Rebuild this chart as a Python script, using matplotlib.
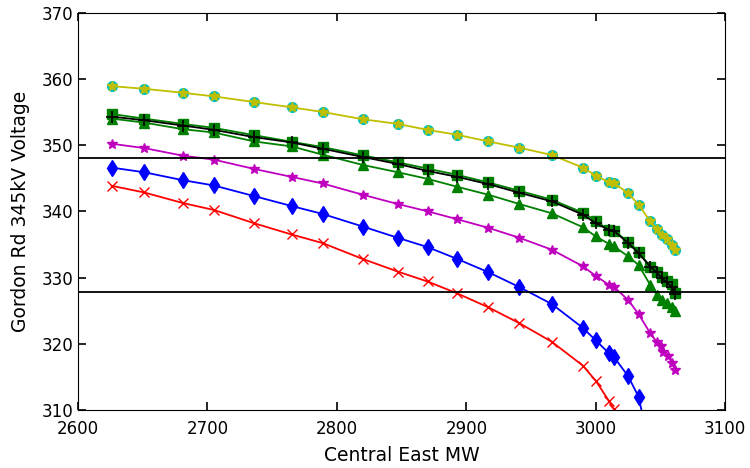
import matplotlib
matplotlib.use("Agg")
import matplotlib.pyplot as plt
import numpy as np

# Central East MW sample points (shared by most cases)
mw = [2626, 2651, 2681, 2705, 2736, 2765, 2789, 2820, 2847, 2870, 2893, 2917, 2941,
      2966, 2990, 3000, 3010, 3014, 3025, 3033, 3042, 3047, 3051, 3055, 3059, 3061]

v_yellow = [358.9, 358.5, 357.9, 357.35, 356.5, 355.7, 355.0, 353.9, 353.2, 352.3, 351.55,
            350.55, 349.6, 348.5, 346.6, 345.4, 344.4, 344.25, 342.75, 341.0, 338.5, 337.4,
            336.45, 335.8, 334.9, 334.2]
v_gsq = [354.7, 354.0, 353.2, 352.6, 351.5, 350.5, 349.7, 348.45, 347.4, 346.45, 345.5,
         344.35, 343.1, 341.75, 339.8, 338.55, 337.2, 337.05, 335.4, 333.9, 331.65, 330.9,
         330.15, 329.5, 329.0, 327.7]
v_black = [354.3, 353.75, 352.95, 352.3, 351.2, 350.4, 349.45, 348.2, 347.15, 346.1, 345.2,
           344.1, 342.8, 341.5, 339.5, 338.2, 337.2, 337.05, 335.2, 333.7, 331.65, 330.8,
           329.9, 329.25, 328.55, 327.5]
v_gtri = [354.0, 353.4, 352.4, 351.9, 350.55, 349.8, 348.55, 347.0, 345.9, 344.9, 343.7,
          342.5, 341.1, 339.7, 337.6, 336.2, 335.1, 334.7, 333.2, 331.9, 328.9, 327.4,
          326.6, 326.1, 325.6, 324.9]

mw_mag = [2626, 2651, 2681, 2705, 2736, 2765, 2789, 2820, 2847, 2870, 2893, 2917, 2941,
          2966, 2990, 3000, 3010, 3014, 3025, 3033, 3042, 3047, 3050, 3052, 3056, 3059, 3061]
v_mag = [350.2, 349.55, 348.4, 347.8, 346.4, 345.2, 344.2, 342.5, 341.1, 340.0, 338.8,
         337.5, 336.0, 334.2, 331.7, 330.25, 328.9, 328.6, 326.6, 324.5, 321.6, 320.3,
         319.6, 318.8, 318.1, 317.1, 316.05]

v_blue = [346.6, 345.9, 344.7, 343.9, 342.3, 340.8, 339.6, 337.7, 336.0, 334.6, 332.8,
          330.8, 328.55, 326.0, 322.4, 320.5, 318.6, 318.0, 315.1, 312.0, 304.0]
v_red = [343.85, 342.85, 341.25, 340.2, 338.2, 336.5, 335.2, 332.8, 330.9, 329.4, 327.6,
         325.5, 323.1, 320.3, 316.7, 314.4, 311.4, 310.1, 306.0]

v_limits = [348.0, 327.75]

fig = plt.figure(figsize=(7.5, 4.68), dpi=100)
ax = fig.add_axes([0.104, 0.124, 0.863, 0.849])

lw = 1.3
ax.plot(mw[:len(v_red)], v_red, 'r-', marker='x', ms=7, mew=1, lw=lw)
ax.plot(mw[:len(v_blue)], v_blue, 'b-', marker='d', ms=8, lw=lw)
ax.plot(mw_mag, v_mag, 'm-', marker='*', ms=7, lw=lw)
ax.plot(mw, v_gtri, 'g-', marker='^', ms=7, lw=lw)
ax.plot(mw, v_gsq, 'g-', marker='s', ms=7, lw=lw)
ax.plot(mw, v_black, 'k-', marker='+', ms=8, mew=1.2, lw=lw)
ax.plot(mw, v_yellow, 'o', color=(0, 0.75, 0.75), ms=7)
ax.plot(mw, v_yellow, '-', color=(0.75, 0.75, 0), marker='*', ms=7, lw=lw)

for v in v_limits:
    ax.axhline(v, color='k', lw=1.3)

ax.set_xlim(2600, 3100)
ax.set_ylim(310, 370)
ax.set_xticks(np.arange(2600, 3101, 100))
ax.set_yticks(np.arange(310, 371, 10))
ax.tick_params(direction='in', top=True, right=True, length=6, width=1.2, labelsize=12)
ax.tick_params(axis='x', pad=7)
ax.set_xlabel('Central East MW', fontsize=13.5, labelpad=6)
ax.set_ylabel('Gordon Rd 345kV Voltage', fontsize=13.5, labelpad=8)

fig.savefig('out.png', dpi=100)
